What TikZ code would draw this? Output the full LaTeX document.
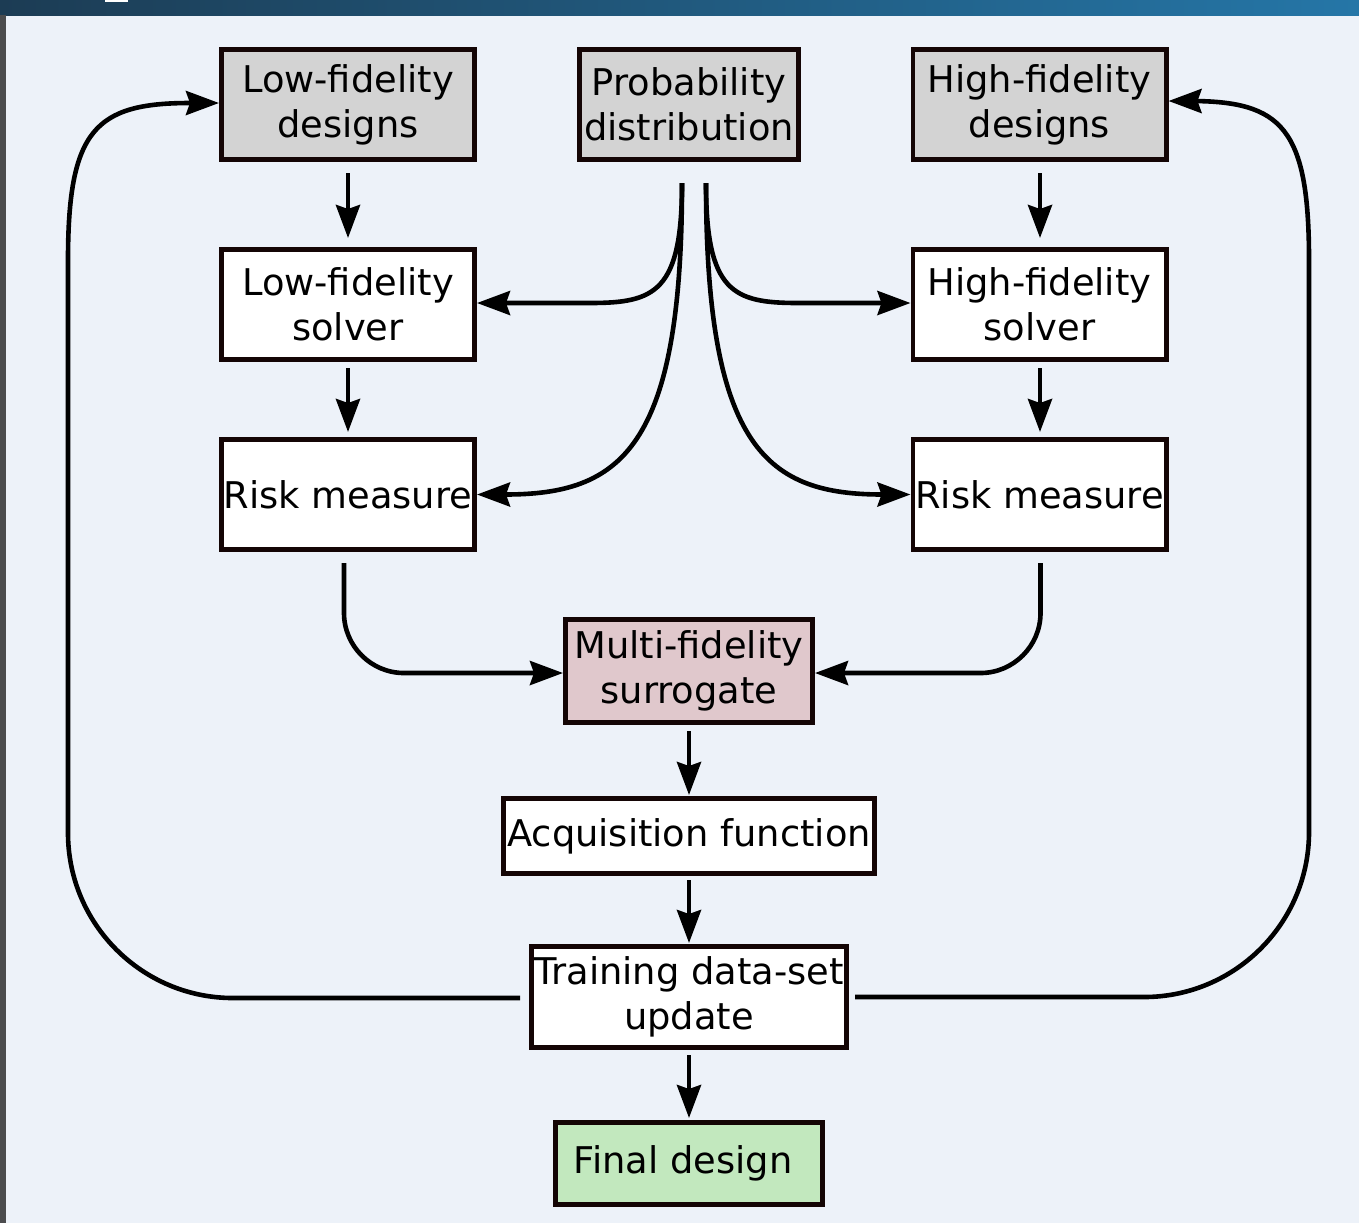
\documentclass[tikz,border=0pt]{standalone}
\usepackage{fontspec}
\setmainfont{DejaVu Sans}
\usetikzlibrary{arrows.meta,calc}
\definecolor{bg}{RGB}{237,242,249}
\definecolor{barL}{RGB}{28,60,84}
\definecolor{barR}{RGB}{37,118,167}
\definecolor{strip}{RGB}{75,76,78}
\definecolor{edge}{RGB}{20,5,5}
\definecolor{grayfill}{RGB}{211,211,211}
\definecolor{pinkfill}{RGB}{224,200,204}
\definecolor{greenfill}{RGB}{194,232,190}
\begin{document}
\begin{tikzpicture}[x=0.5pt,y=-0.5pt,
  box/.style={draw=edge, line width=2.4pt, align=center, inner sep=0pt, fill=white,
    font=\fontsize{18.4}{22.5}\selectfont},
  wide/.style={minimum width=126.6pt, minimum height=55.1pt},
  arr/.style={line width=2.3pt, draw=black, -{Stealth[length=16.5pt,width=12pt,inset=2pt]}}]
\useasboundingbox (0,0) rectangle (1359,1223);
\fill[bg] (0,0) rectangle (1359,1223);
\shade[left color=barL, right color=barR] (0,0) rectangle (1359,15);
\fill[white] (105,0) rectangle (128,1.5);
\fill[strip] (0,15) rectangle (6,1223);

% nodes
\node[box, wide, fill=grayfill] (lfd) at (348,104.5) {Low-fidelity\\designs};
\node[box, fill=grayfill, minimum width=109.6pt, minimum height=55.1pt] (prob) at (689,104.5) {Probability\\distribution};
\node[box, wide, fill=grayfill] (hfd) at (1039.5,104.5) {High-fidelity\\designs};
\node[box, wide] (lfs) at (348,304.5) {Low-fidelity\\solver};
\node[box, wide] (hfs) at (1039.5,304.5) {High-fidelity\\solver};
\node[box, wide] (rkl) at (348,494.5) {Risk measure};
\node[box, wide] (rkr) at (1039.5,494.5) {Risk measure};
\node[box, fill=pinkfill, minimum width=123.6pt, minimum height=51.6pt] (mf) at (689,671) {Multi-fidelity\\surrogate};
\node[box, minimum width=185.6pt, minimum height=37.6pt] (af) at (689,836) {Acquisition function};
\node[box, minimum width=157.6pt, minimum height=50.6pt] (td) at (689,997) {Training data-set\\update};
\node[box, fill=greenfill, minimum width=133.6pt, minimum height=41.1pt] (fd) at (689,1163.5) {\hspace*{-6pt}Final design};

% vertical arrows
\draw[arr] ($(lfd.south)+(0,11)$) -- ($(lfs.north)+(0,-9)$);
\draw[arr] ($(lfs.south)+(0,6)$) -- ($(rkl.north)+(0,-5)$);
\draw[arr] ($(hfd.south)+(0.5,11)$) -- ($(hfs.north)+(0.5,-9)$);
\draw[arr] ($(hfs.south)+(0.5,6)$) -- ($(rkr.north)+(0.5,-5)$);
\draw[arr] ($(mf.south)+(0,6)$) -- ($(af.north)+(0,-1)$);
\draw[arr] ($(af.south)+(0,4)$) -- ($(td.north)+(0,-1)$);
\draw[arr] ($(td.south)+(0,5)$) -- ($(fd.north)+(0,-2)$);

% from probability distribution
\draw[arr] ($(prob.south)+(-7,21)$) .. controls (682,292) and (655,303) .. (590,303) -- ($(lfs.east)+(0,-1.5)$);
\draw[arr] ($(prob.south)+(-7,21)$) .. controls (682,450) and (620,494.5) .. (rkl.east);
\draw[arr] ($(prob.south)+(17,21)$) .. controls (706,292) and (733,303) .. (798,303) -- ($(hfs.west)+(0,-1.5)$);
\draw[arr] ($(prob.south)+(17,21)$) .. controls (706,450) and (768,494.5) .. (rkr.west);

% risk measures to surrogate
\draw[arr] ($(rkl.south)+(-4,11)$) -- (344,613) .. controls (344,646) and (371,673) .. (404,673) -- ($(mf.west)+(0,2)$);
\draw[arr] ($(rkr.south)+(1,11)$) -- (1040.5,613) .. controls (1040.5,646) and (1013.5,673) .. (980.5,673) -- ($(mf.east)+(0,2)$);

% feedback loops
\draw[arr] ($(td.west)+(-9,1)$) -- (233,998) .. controls (142,998) and (68,924) .. (68,833)
  -- (68,260) .. controls (68,130) and (95,103) .. (190,103) -- ($(lfd.west)+(0,-1.5)$);
\draw[arr] ($(td.east)+(6,0)$) -- (1144,997) .. controls (1235,997) and (1309,923) .. (1309,832)
  -- (1309,260) .. controls (1309,128) and (1282,101) .. (1190,101) -- ($(hfd.east)+(0,-3.5)$);
\end{tikzpicture}
\end{document}
